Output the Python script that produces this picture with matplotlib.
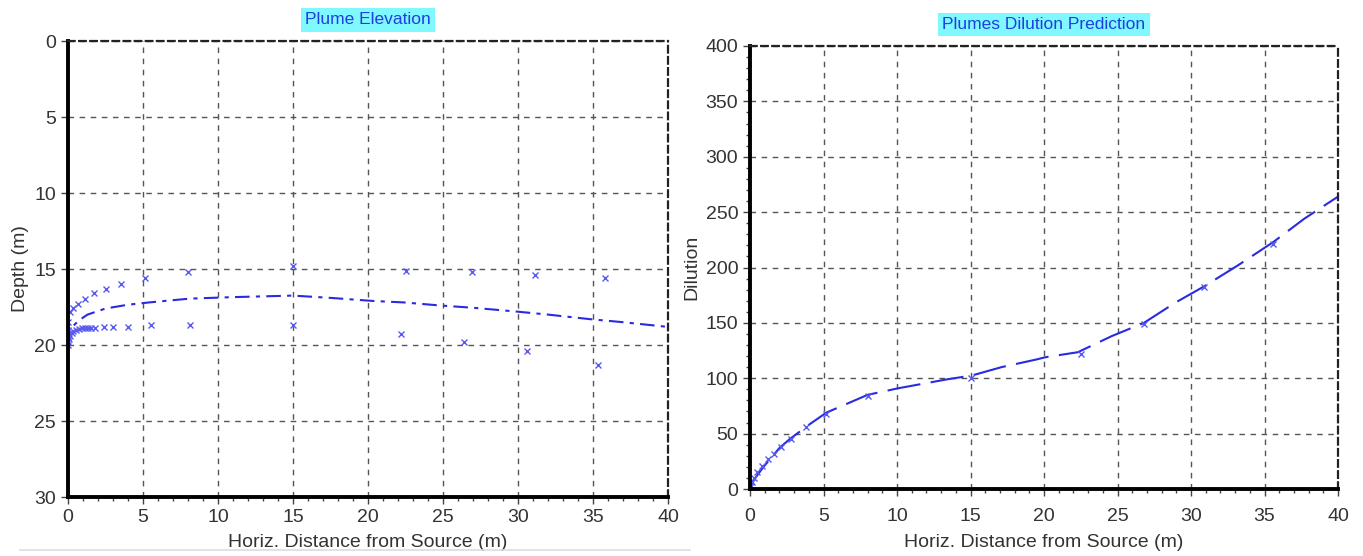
import matplotlib
matplotlib.use("Agg")
import matplotlib.pyplot as plt
from matplotlib.ticker import MultipleLocator
from matplotlib.lines import Line2D

plt.rcParams['font.family'] = ['Liberation Sans', 'DejaVu Sans']

# Plume elevation: centreline and plume boundaries (depth in m)
center_x = [0, 0.1, 0.3, 0.7, 1.3, 2.5, 4.0, 5.4, 8.1, 11.0, 15.0, 17.5, 20.3,
            22.4, 24.8, 27.0, 29.9, 32.0, 34.8, 37.0, 39.9]
center_d = [20.0, 19.3, 18.8, 18.4, 18.0, 17.6, 17.35, 17.2, 16.95, 16.85, 16.75,
            16.9, 17.1, 17.2, 17.4, 17.55, 17.8, 18.0, 18.3, 18.5, 18.8]

upper_x = [0.0, 0.01, 0.02, 0.13, 0.35, 0.68, 1.13, 1.75, 2.5, 3.5, 5.1, 8.0,
           15.0, 22.5, 26.9, 31.1, 35.8]
upper_d = [19.5, 19.0, 18.5, 17.8, 17.55, 17.3, 16.95, 16.6, 16.3, 16.0, 15.6,
           15.2, 14.8, 15.1, 15.2, 15.4, 15.6]

lower_x = [0.0, 0.02, 0.05, 0.13, 0.25, 0.35, 0.5, 0.7, 0.9, 1.1, 1.3, 1.5, 1.8,
           2.4, 3.0, 4.0, 5.5, 8.1, 15.0, 22.2, 26.4, 30.6, 35.3]
lower_d = [20.0, 19.8, 19.6, 19.4, 19.2, 19.1, 19.0, 18.95, 18.9, 18.9, 18.9,
           18.9, 18.9, 18.8, 18.8, 18.8, 18.7, 18.7, 18.7, 19.3, 19.8, 20.4, 21.3]

# Dilution prediction
dil_x = [0, 0.23, 0.9, 2.0, 2.7, 3.9, 5.2, 8.0, 10.1, 13.4, 15.1, 17.1, 19.5,
         20.1, 22.3, 24.6, 26.8, 28.9, 30.9, 33.2, 35.6, 37.7, 40.0]
dil_y = [0, 7.6, 19.7, 37, 45, 57, 69, 85, 91, 99, 102.5, 110, 117,
         119, 123.5, 138, 150, 168, 183, 202, 223, 244, 264]

dil_mx = [0.05, 0.15, 0.3, 0.5, 0.8, 1.2, 1.6, 2.1, 2.8, 3.8, 5.2, 8.0, 15.0,
          22.5, 26.8, 30.9, 35.6]
dil_my = [3, 6, 10, 15, 21, 27, 32, 38, 45, 56, 68, 84, 100, 122, 149, 182, 221]

line_color = '#2a2ae0'
mark_color = '#5a5aee'
grid_color = '#555555'

fig = plt.figure(figsize=(13.63, 5.56), dpi=100)
ax1 = fig.add_axes([68 / 1363, 1 - 497 / 556, 600 / 1363, 456 / 556])
ax2 = fig.add_axes([750 / 1363, 1 - 489 / 556, 588 / 1363, 443 / 556])


def style_axes(ax):
    ax.grid(True, color=grid_color, linestyle=(0, (4, 4)), linewidth=1)
    for side in ['left', 'bottom']:
        ax.spines[side].set_linewidth(2.8)
        ax.spines[side].set_color('black')
    for side in ['top', 'right']:
        ax.spines[side].set_linewidth(1.6)
        ax.spines[side].set_color('#222222')
        ax.spines[side].set_linestyle((0, (3, 2)))
    ax.tick_params(which='major', direction='out', length=5, width=1,
                   color='#444444', labelsize=14, labelcolor='#333333')
    ax.tick_params(which='minor', direction='out', length=3, width=1, color='#444444')
    ax.xaxis.set_major_locator(MultipleLocator(5))
    ax.xaxis.set_minor_locator(MultipleLocator(1))
    ax.set_xlim(0, 40)
    ax.set_xlabel('Horiz. Distance from Source (m)', fontsize=14, color='#333333',
                  labelpad=6)


title_box = dict(facecolor='#80f8ff', edgecolor='none', pad=3)

# left: plume elevation
style_axes(ax1)
ax1.plot(center_x, center_d, color=line_color, linewidth=1.5,
         linestyle=(0, (7, 3, 2, 3)))
ax1.plot(upper_x, upper_d, linestyle='none', marker='x', markersize=5,
         markeredgewidth=1, color=mark_color)
ax1.plot(lower_x, lower_d, linestyle='none', marker='x', markersize=5,
         markeredgewidth=1, color=mark_color)
ax1.set_ylim(30, 0)
ax1.yaxis.set_major_locator(MultipleLocator(5))
ax1.set_ylabel('Depth (m)', fontsize=14, color='#333333', labelpad=4)
ax1.set_title('Plume Elevation', fontsize=12.5, color='#1f3fe0', bbox=title_box,
              pad=12)

# right: dilution
style_axes(ax2)
ax2.tick_params(axis='x', which='major', pad=9)
ax2.plot(dil_x, dil_y, color=line_color, linewidth=1.5, linestyle=(0, (16, 5)))
ax2.plot(dil_mx, dil_my, linestyle='none', marker='x', markersize=5,
         markeredgewidth=1, color=mark_color)
ax2.set_ylim(0, 400)
ax2.yaxis.set_major_locator(MultipleLocator(50))
ax2.yaxis.set_minor_locator(MultipleLocator(10))
ax2.set_ylabel('Dilution', fontsize=14, color='#333333', labelpad=4)
ax2.set_title('Plumes Dilution Prediction', fontsize=12.5, color='#1f3fe0',
              bbox=title_box, pad=12)

# faint separator under the left panel
fig.add_artist(Line2D([20 / 1363, 690 / 1363], [1 - 550 / 556, 1 - 550 / 556],
                      color='#dddddd', linewidth=1.2))

fig.savefig('out.png', dpi=100)
